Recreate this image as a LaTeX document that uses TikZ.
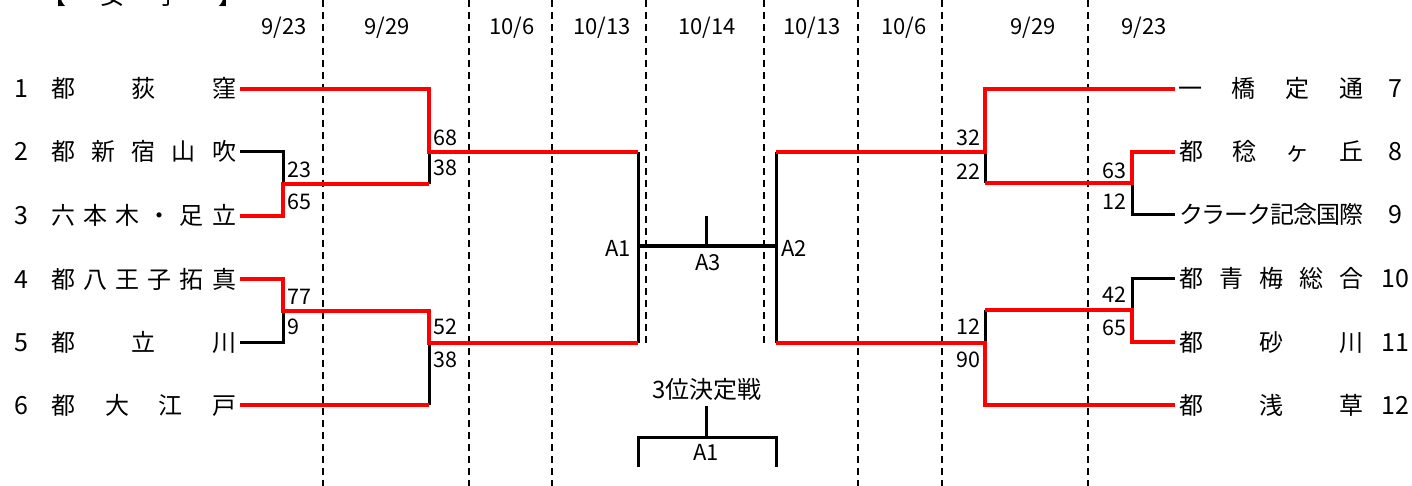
\documentclass[tikz,border=0pt]{standalone}
\usepackage{fontspec}
\setmainfont{Noto Sans CJK JP}
\newcommand\namerow[6]{%
  \foreach \c [count=\i from 0] in {#6}{%
    \node[nm] (#1-\i) at ({#2+\i*(#3-#2)/(#5-1)},#4) {\c};}}
\begin{document}
\begin{tikzpicture}[x=1pt,y=-1pt,
  nm/.style={inner sep=0pt,anchor=base,yshift=-9pt,font=\fontsize{24}{26}\selectfont},
  num/.style={inner sep=0pt,anchor=base,yshift=-9pt,font=\fontsize{25}{27}\selectfont},
  dt/.style={inner sep=0pt,anchor=base,yshift=-8pt,font=\fontsize{22}{24}\selectfont},
  scl/.style={inner sep=0pt,anchor=base west,yshift=-7.7pt,font=\fontsize{21.5}{23}\selectfont},
  scr/.style={inner sep=0pt,anchor=base east,yshift=-7.7pt,font=\fontsize{21.5}{23}\selectfont},
  lab/.style={inner sep=0pt,anchor=base,yshift=-8pt,font=\fontsize{22}{24}\selectfont},
  win/.style={draw=red,line width=4.2pt,line join=miter},
  lose/.style={draw=black,line width=3pt,line join=miter},
  grid/.style={draw=black,line width=1.4pt,dash pattern=on 7pt off 5pt},
]
\useasboundingbox (0,0) rectangle (1412,486);

% header (cut off at top, as in the reference)
\node[nm] (h1) at (54,-4) {【};
\node[nm] (h2) at (112,-4) {女};
\node[nm] (h3) at (168,-4) {子};
\node[nm] (h4) at (230,-4) {】};

% dashed grid
\foreach \x/\n in {323/g1,469/g2,552/g3,858/g6,942/g7,1088/g8}{
  \coordinate (\n t) at (\x,0); \coordinate (\n b) at (\x,486);
  \draw[grid] (\n t) -- (\n b);}
\foreach \x/\n in {646/g4,764/g5}{
  \coordinate (\n t) at (\x,0); \coordinate (\n b) at (\x,345);
  \draw[grid] (\n t) -- (\n b);}

% dates
\node[dt] (d1) at (284,27) {9/23};
\node[dt] (d2) at (387,27) {9/29};
\node[dt] (d3) at (512,27) {10/6};
\node[dt] (d4) at (602,27) {10/13};
\node[dt] (d5) at (707,27) {10/14};
\node[dt] (d6) at (812,27) {10/13};
\node[dt] (d7) at (904,27) {10/6};
\node[dt] (d8) at (1033,27) {9/29};
\node[dt] (d9) at (1144,27) {9/23};

% team numbers
\node[num] (n1) at (21,89) {1};
\node[num] (n2) at (21,152) {2};
\node[num] (n3) at (21,216) {3};
\node[num] (n4) at (21,279) {4};
\node[num] (n5) at (21,342) {5};
\node[num] (n6) at (21,405) {6};
\node[num] (n7) at (1395,89) {7};
\node[num] (n8) at (1395,152) {8};
\node[num] (n9) at (1395,215) {9};
\node[num] (n10) at (1395,278) {10};
\node[num] (n11) at (1395,342) {11};
\node[num] (n12) at (1395,405) {12};

% team names
\namerow{L1}{63.5}{224}{89}{3}{都,荻,窪}
\namerow{L2}{63.5}{224}{152}{5}{都,新,宿,山,吹}
\namerow{L3}{63.5}{224}{216}{6}{六,本,木,・,足,立}
\namerow{L4}{63.5}{224}{279}{6}{都,八,王,子,拓,真}
\namerow{L5}{63.5}{224}{342}{3}{都,立,川}
\namerow{L6}{63.5}{224}{405}{4}{都,大,江,戸}
\namerow{R7}{1190}{1351}{89}{4}{一,橋,定,通}
\namerow{R8}{1191}{1351}{152}{4}{都,稔,ヶ,丘}
\namerow{R9}{1191}{1351}{215}{8}{ク,ラ,ー,ク,記,念,国,際}
\namerow{R10}{1191}{1351}{278}{5}{都,青,梅,総,合}
\namerow{R11}{1191}{1351}{342}{3}{都,砂,川}
\namerow{R12}{1191}{1351}{405}{3}{都,浅,草}

% bracket coordinates
\coordinate (t1) at (240,89);  \coordinate (t2) at (240,152);
\coordinate (t3) at (240,216); \coordinate (t4) at (240,279);
\coordinate (t5) at (240,342); \coordinate (t6) at (240,405);
\coordinate (t7) at (1175,89);  \coordinate (t8) at (1175,152);
\coordinate (t9) at (1175,215); \coordinate (t10) at (1175,278);
\coordinate (t11) at (1175,342); \coordinate (t12) at (1175,405);
\coordinate (j23) at (283,184);  \coordinate (j45) at (283,311);
\coordinate (s1) at (429,152);   \coordinate (s2) at (429,343);
\coordinate (j89) at (1132,183); \coordinate (j1011) at (1132,310);
\coordinate (s3) at (985,152);   \coordinate (s4) at (985,343);
\coordinate (a1t) at (638,152);  \coordinate (a1b) at (638,343);
\coordinate (a2t) at (776,152);  \coordinate (a2b) at (776,343);
\coordinate (fm1) at (638,246);  \coordinate (fm2) at (776,246);
\coordinate (fc) at (706,246);   \coordinate (ft) at (706,216);

% losing (black) lines
\draw[lose] (t2) -| (j23);
\draw[lose] (t5) -| (j45);
\draw[lose] (j23 -| s1) -- (s1);
\draw[lose] (t6 -| s2) -- (s2);
\draw[lose] (t9) -| (j89);
\draw[lose] (t10) -| (j1011);
\draw[lose] (j89 -| s3) -- (s3);
\draw[lose] (j1011 -| s4) -- (s4);
\draw[lose] (a1t) -- (a1b);
\draw[lose] (a2t) -- (a2b);
\draw[lose] (fm1) -- (fm2);
\draw[lose] (ft) -- (fc);

% winning (red) lines
\draw[win] (t1) -| (s1) -- (a1t);
\draw[win] (t3) -| (j23) -- (j23 -| s1);
\draw[win] (t4) -| (j45) -- (j45 -| s2) -- (s2) -- (a1b);
\draw[win] (t6) -- (t6 -| s2);
\draw[win] (t7) -| (s3) -- (a2t);
\draw[win] (t8) -| (j89) -- (j89 -| s3);
\draw[win] (t11) -| (j1011) -- (j1011 -| s4);
\draw[win] (t12) -| (s4) -- (a2b);

% scores
\node[scl] (sc1) at (287,170) {23};
\node[scl] (sc2) at (287,202) {65};
\node[scl] (sc3) at (433,138) {68};
\node[scl] (sc4) at (433,168) {38};
\node[scl] (sc5) at (287,297) {77};
\node[scl] (sc6) at (287,327) {9};
\node[scl] (sc7) at (433,327) {52};
\node[scl] (sc8) at (433,360) {38};
\node[scr] (sc9) at (981,138) {32};
\node[scr] (sc10) at (981,172) {22};
\node[scr] (sc11) at (1127,171) {63};
\node[scr] (sc12) at (1127,202) {12};
\node[scr] (sc13) at (1127,295) {42};
\node[scr] (sc14) at (1127,328) {65};
\node[scr] (sc15) at (981,327) {12};
\node[scr] (sc16) at (981,360) {90};

% final labels
\node[lab] (la1) at (618,248) {A1};
\node[lab] (la2) at (794,248) {A2};
\node[lab] (la3) at (708,262) {A3};

% third place
\node[nm,font=\fontsize{24}{26}\selectfont] (tp) at (707,389) {3位決定戦};
\coordinate (tpt) at (706,406); \coordinate (tpc) at (706,437);
\coordinate (tpl) at (638,467); \coordinate (tpr) at (776,467);
\draw[lose] (tpt) -- (tpc);
\draw[lose] (tpl) |- (tpc) -| (tpr);
\node[lab] (la4) at (706,452) {A1};
\end{tikzpicture}
\end{document}
